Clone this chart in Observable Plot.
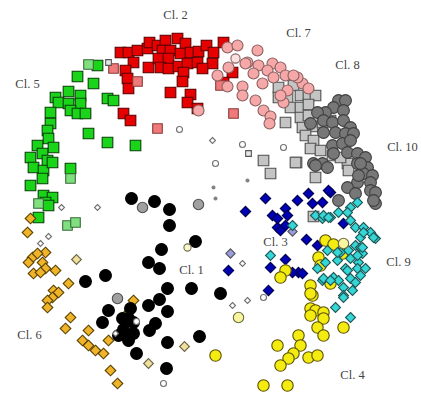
<!DOCTYPE html>
<html><head><meta charset="utf-8">
<script src="https://cdn.jsdelivr.net/npm/d3@7"></script>
<script src="https://cdn.jsdelivr.net/npm/@observablehq/plot@0.6"></script>
<style>html,body{margin:0;padding:0;background:#fff}</style>
</head><body><div id="chart"></div>
<script>
// Projection coordinates (arbitrary map units, y grows downward)
const cl1 = [[131,198],[154,201],[169,209],[169,225],[195,241],[161,249],[148,262],[159,268],[105,275],[85,281],[167,288],[191,288],[220,293],[159,299],[148,305],[108,310],[130,308],[167,311],[102,322],[128,318],[155,323],[123,329],[133,333],[149,330],[128,340],[199,336],[167,342],[136,353],[166,368],[122,318],[133,322],[118,335]];
const cl1gray = [[142,207],[198,204],[117,298]];
const cl2 = [[120,52],[128,52],[137,50],[147,48],[149,42],[157,45],[165,40],[177,38],[185,43],[162,50],[170,50],[180,53],[190,52],[198,51],[206,45],[133,62],[148,67],[158,58],[168,58],[160,67],[168,68],[178,66],[187,63],[197,62],[212,63],[202,68],[183,72],[125,70],[127,78],[128,88],[182,81],[170,92],[190,94],[187,102],[197,108],[223,42],[232,72],[223,82],[123,113],[130,120],[213,52]];
const cl2light = [[113,68],[137,81],[157,128],[233,113],[220,85]];
const cl3 = [[265,198],[245,211],[272,215],[285,208],[297,200],[308,193],[312,203],[322,202],[277,227],[285,225],[280,230],[306,239],[317,245],[228,270],[270,267],[285,259],[298,272],[292,272],[330,192],[287,215],[277,218],[343,223],[268,290],[328,190],[302,273]];
const cl3light = [[230,253],[292,231]];
const cl4 = [[325,240],[333,244],[318,257],[285,270],[280,277],[310,285],[312,295],[310,308],[315,310],[323,312],[323,318],[310,315],[317,327],[323,335],[343,327],[298,335],[300,345],[277,345],[293,353],[288,358],[280,365],[308,357],[317,355],[263,385],[287,385],[215,355],[342,253],[320,265],[310,293],[330,283]];
const cl4light = [[343,243],[238,317]];
const cl5 = [[97,65],[77,76],[93,83],[68,91],[80,95],[55,97],[58,102],[68,103],[80,103],[70,110],[77,113],[85,113],[107,98],[113,100],[50,112],[50,123],[47,130],[48,138],[88,133],[107,142],[37,145],[53,147],[30,157],[42,153],[47,160],[33,167],[43,170],[52,162],[42,178],[30,185],[70,168],[43,195],[52,197],[45,202],[48,205],[38,217],[135,145]];
const cl5light = [[88,64],[70,178],[38,203],[67,225],[75,222]];
const cl6 = [[30,218],[27,232],[45,252],[32,257],[37,253],[28,262],[42,262],[45,268],[33,273],[40,272],[55,270],[68,283],[53,290],[58,292],[52,297],[47,300],[47,307],[70,317],[65,328],[88,330],[82,340],[88,345],[95,350],[103,353],[108,340],[110,370],[117,383],[133,300],[127,313]];
const cl6light = [[76,259],[148,363],[184,346]];
const cl7 = [[227,47],[237,45],[257,50],[247,62],[258,65],[272,63],[280,67],[285,75],[267,70],[253,73],[262,83],[242,86],[227,86],[255,100],[263,110],[270,116],[269,123],[302,83],[308,88],[283,102],[297,77],[217,75],[273,77],[293,75],[287,90],[280,95],[228,67],[245,63],[242,95],[198,110]];
const cl7light = [[235,58]];
const cl8 = [[278,87],[293,85],[278,97],[287,97],[300,95],[308,95],[315,95],[290,107],[300,107],[308,104],[285,122],[300,117],[308,115],[302,127],[312,126],[305,135],[313,140],[322,122],[330,120],[310,148],[320,150],[263,160],[296,162],[270,173],[315,177],[332,155],[347,163],[348,170],[295,162],[313,216],[340,157]];
const cl9 = [[357,202],[350,207],[338,212],[330,217],[322,218],[350,220],[355,227],[363,227],[370,232],[375,238],[360,237],[355,245],[360,247],[348,250],[340,252],[362,253],[350,258],[358,262],[337,260],[325,262],[345,268],[357,268],[365,268],[333,277],[350,278],[360,275],[322,280],[343,287],[338,280],[352,290],[343,295],[327,250],[292,225],[315,215],[347,212],[363,232],[373,237],[337,252],[362,247],[357,255],[347,270],[317,268],[323,278],[330,280],[355,282],[343,297],[335,307],[350,317],[270,255],[323,215],[328,217]];
const cl10 = [[338,100],[345,100],[333,107],[343,110],[325,112],[317,112],[323,120],[332,122],[343,120],[350,127],[335,132],[345,133],[353,133],[323,132],[310,123],[332,145],[342,143],[350,140],[333,153],[347,152],[357,153],[357,163],[365,157],[367,167],[313,163],[322,163],[327,167],[363,173],[372,175],[370,182],[357,182],[347,187],[355,193],[370,190],[375,192],[375,203],[373,200],[338,200],[360,163],[358,175],[315,165]];
const smallCircles = [[179,129],[215,163],[242,144],[283,147],[136,321],[163,383],[263,297]];
const smallLightYellow = [[187,247]];
const smallDiamonds = [[61,207],[97,207],[48,236],[40,243],[115,333],[212,140],[242,263],[232,305],[247,300]];
const smallSquares = [[108,62],[248,153]];
const tinyDots = [[213,187],[215,198],[247,180]];

const labelText = ["Cl. 1","Cl. 2","Cl. 3","Cl. 4","Cl. 5","Cl. 6","Cl. 7","Cl. 8","Cl. 9","Cl. 10"];
const labelX = [191,175,275,352,27,29,298,347,398,402];
const labelY = [269,14,241,374,83,334,32,64,261,146];

const groups = [
  [cl5, "square", 6, "#1ad41a", "#0a400a"],
  [cl5light, "square", 5.4, "#80e080", "#3a6a3a"],
  [cl2, "square", 6, "#e60000", "#5a0000"],
  [cl2light, "square", 5.4, "#f07a7a", "#8a3a3a"],
  [cl8, "square", 6, "#c4c4c4", "#505050"],
  [smallSquares, "square", 3.2, "#e8e8e8", "#555"],
  [cl7, "circle", 5.5, "#f6a8a8", "#8a6060"],
  [cl7light, "circle", 4.6, "#fbe0e0", "#8a6060"],
  [cl10, "circle", 5.9, "#777777", "#404040"],
  [cl3, "diamond2", 4.7, "#0000b4", "#000050"],
  [cl3light, "diamond2", 4.2, "#9b9be0", "#555"],
  [cl4, "circle", 5.7, "#f4ec10", "#5a5000"],
  [cl9, "diamond2", 4.5, "#34d6d6", "#205858"],
  [cl4light, "circle", 5.2, "#f8f4a0", "#6a6a40"],
  [cl6, "diamond2", 4.8, "#f0b428", "#5a4000"],
  [cl6light, "diamond2", 4.4, "#f0e0a0", "#6a6040"],
  [cl1, "circle", 5.9, "#000000", "#000000"],
  [cl1gray, "circle", 5.2, "#a0a0a0", "#505050"],
  [smallCircles, "circle", 3, "#ffffff", "#707070"],
  [smallLightYellow, "circle", 3.6, "#fbf8d0", "#707050"],
  [smallDiamonds, "diamond2", 2.7, "#ffffff", "#707070"],
  [tinyDots, "circle", 1.5, "#808080", "#808080"]
];

const marks = groups.map(([pts, symbol, r, fill, stroke]) =>
  Plot.dot(pts, {x: d => d[0], y: d => d[1], symbol, r, fill, stroke, strokeWidth: 1.1})
);
marks.push(Plot.text(labelText, {
  x: (d, i) => labelX[i], y: (d, i) => labelY[i], text: d => d,
  fontFamily: "Liberation Serif", fontSize: 12.5, fill: "#444", textAnchor: "middle"
}));

const chart = Plot.plot({
  width: 421, height: 396, margin: 0,
  x: {domain: [0, 421], range: [0, 421], axis: null},
  y: {domain: [0, 396], range: [0, 396], axis: null},
  style: {background: "#fff"},
  marks
});
document.getElementById("chart").append(chart);
</script>
</body></html>
